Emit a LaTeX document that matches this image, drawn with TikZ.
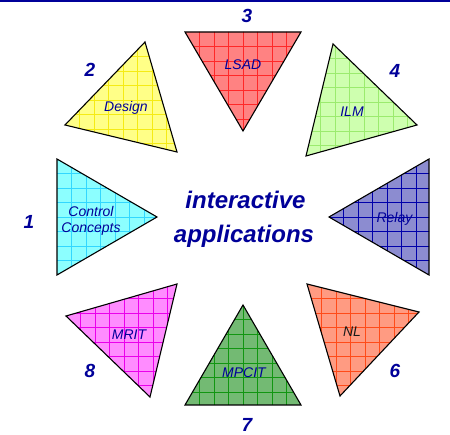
\documentclass[tikz,border=0pt]{standalone}
\usepackage{fontspec}
\setmainfont{Liberation Sans}
\definecolor{dblue}{HTML}{000099}
\tikzset{
  tri/.style={draw=black, line width=1.1pt, line join=miter},
  gridln/.style={line width=0.5pt},
  num/.style={text=dblue, font=\fontsize{19}{22}\selectfont\bfseries\itshape, inner sep=0pt},
  lbl/.style={text=dblue, font=\fontsize{14}{16}\selectfont\itshape, inner sep=0pt, anchor=base},
  title/.style={text=dblue, font=\fontsize{24}{28}\selectfont\bfseries\itshape, inner sep=0pt, anchor=base}
}
% #1 fill, #2 grid colour, #3 #4 #5 vertices, #6 xmin, #7 ymin
\newcommand\gtri[7]{%
  \begin{scope}
    \clip #3 -- #4 -- #5 -- cycle;
    \fill[#1] #3 -- #4 -- #5 -- cycle;
    \foreach \k in {1,...,9}{
      \draw[gridln,#2] ({#6+\k*14.5},{#7-5}) -- ({#6+\k*14.5},{#7+130});
      \draw[gridln,#2] ({#6-5},{#7+\k*14.5}) -- ({#6+130},{#7+\k*14.5});
    }
  \end{scope}
  \draw[tri] #3 -- #4 -- #5 -- cycle;}
\begin{document}
\begin{tikzpicture}[x=1pt,y=-1pt]
\useasboundingbox (0,0) rectangle (450,435);
\fill[white] (0,0) rectangle (450,435);
\coordinate (tl) at (0,0.8);
\coordinate (tr) at (450,0.8);
\draw[dblue, line width=1.6pt] (tl) -- (tr);

% 3 LSAD
\gtri{fill={rgb,255:red,255;green,130;blue,130}}{color={rgb,255:red,255;green,40;blue,40}}{(185,32)}{(301,32)}{(243,131)}{185}{32}
% 2 Design
\gtri{fill={rgb,255:red,255;green,255;blue,135}}{color={rgb,255:red,245;green,235;blue,20}}{(145,42)}{(65,125)}{(177,152)}{65}{42}
% 4 ILM
\gtri{fill={rgb,255:red,206;green,255;blue,175}}{color={rgb,255:red,155;green,235;blue,110}}{(333,44)}{(417,125)}{(306,156)}{306}{44}
% 1 Control Concepts
\gtri{fill={rgb,255:red,140;green,255;blue,255}}{color={rgb,255:red,50;green,215;blue,255}}{(57,159)}{(57,275)}{(157,217)}{57}{159}
% 5 Relay
\gtri{fill={rgb,255:red,140;green,140;blue,208}}{color={rgb,255:red,0;green,0;blue,170}}{(429,159)}{(429,275)}{(329,217)}{329}{159}
% 8 MRIT
\gtri{fill={rgb,255:red,255;green,140;blue,255}}{color={rgb,255:red,235;green,0;blue,235}}{(177,284)}{(66,316)}{(150,397)}{66}{284}
% 7 MPCIT
\gtri{fill={rgb,255:red,115;green,186;blue,115}}{color={rgb,255:red,17;green,150;blue,17}}{(243,305)}{(185,405)}{(301,405)}{185}{305}
% 6 NL
\gtri{fill={rgb,255:red,255;green,155;blue,130}}{color={rgb,255:red,255;green,75;blue,25}}{(307,284)}{(419,312)}{(340,396)}{307}{284}

% labels
\node[lbl] (lsad) at (243,70) {LSAD};
\node[lbl] (design) at (126,112) {Design};
\node[lbl] (ilm) at (352,117) {ILM};
\node[lbl] (ctrl) at (91,217) {Control};
\node[lbl] (conc) at (91,233) {Concepts};
\node[lbl] (relay) at (394.5,223) {Relay};
\node[lbl] (mrit) at (129,340) {MRIT};
\node[lbl] (mpcit) at (244,378) {MPCIT};
\node[lbl, text=black!90] (nl) at (352,337) {NL};

% numbers
\node[num] (n3) at (247,15.5) {3};
\node[num] (n2) at (90,70) {2};
\node[num] (n4) at (395,70.5) {4};
\node[num] (n1) at (29,221.5) {1};
\node[num] (n8) at (90,370.5) {8};
\node[num] (n7) at (247,424.5) {7};
\node[num] (n6) at (395,370.5) {6};

% title
\node[title] (t1) at (245.5,209) {interactive};
\node[title] (t2) at (244,243) {applications};
\end{tikzpicture}
\end{document}
